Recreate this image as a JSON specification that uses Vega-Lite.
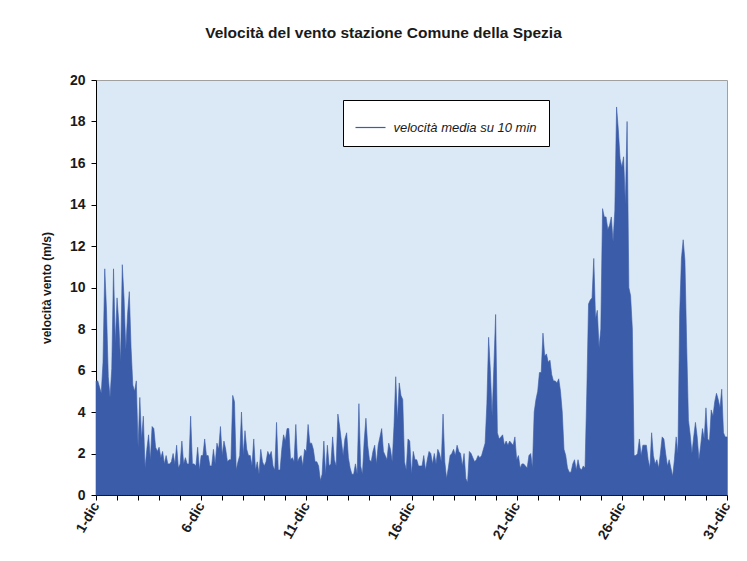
{
"$schema":"https://vega.github.io/schema/vega-lite/v6.json",
"width":631,"height":415,
"autosize":"none",
"padding":{"left":96,"top":80,"right":20,"bottom":66},
"background":"white",
"title":{"text":"Velocità del vento stazione Comune della Spezia","font":"Liberation Sans","fontSize":15.5,"fontWeight":"bold","color":"#1a1a1a","anchor":"middle","dx":-28,"offset":32,"frame":"group"},
"config":{"view":{"fill":"#dbe8f5","stroke":"#a0a0a0","strokeWidth":1},
"axis":{"grid":false,"domainColor":"#000","tickColor":"#000","tickSize":5,"labelFont":"Liberation Sans","labelFontWeight":"bold","labelColor":"#1a1a1a","titleFont":"Liberation Sans","titleFontWeight":"bold","titleColor":"#1a1a1a"}},
"data":{"values":[
{"h":0,"v":5.5},{"h":2,"v":5.5},{"h":4,"v":5.2},{"h":6,"v":4.9},{"h":8,"v":6.4},{"h":10,"v":10.9},{"h":12,"v":8.9},{"h":14,"v":5.7},{"h":16,"v":4.7},{"h":18,"v":6.1},{"h":20,"v":10.9},{"h":22,"v":7.3},{"h":24,"v":9.5},{"h":26,"v":8.3},{"h":28,"v":6.4},{"h":30,"v":11.1},{"h":32,"v":9.5},{"h":34,"v":7.0},{"h":36,"v":8.7},{"h":38,"v":9.8},{"h":40,"v":7.1},{"h":42,"v":5.3},{"h":44,"v":5.0},{"h":46,"v":5.5},{"h":48,"v":2.3},{"h":50,"v":4.7},{"h":52,"v":2.7},{"h":54,"v":3.8},{"h":56,"v":1.3},{"h":58,"v":2.2},{"h":60,"v":2.9},{"h":62,"v":1.7},{"h":64,"v":3.3},{"h":66,"v":3.2},{"h":68,"v":2.3},{"h":70,"v":2.1},{"h":72,"v":2.3},{"h":74,"v":1.8},{"h":76,"v":2.1},{"h":78,"v":1.5},{"h":80,"v":1.9},{"h":82,"v":1.5},{"h":84,"v":1.5},{"h":86,"v":1.6},{"h":88,"v":2.0},{"h":90,"v":1.5},{"h":92,"v":2.4},{"h":94,"v":1.3},{"h":96,"v":1.5},{"h":98,"v":2.6},{"h":100,"v":1.5},{"h":102,"v":1.8},{"h":104,"v":1.5},{"h":106,"v":1.5},{"h":108,"v":3.8},{"h":110,"v":1.5},{"h":112,"v":1.5},{"h":114,"v":1.4},{"h":116,"v":2.3},{"h":118,"v":1.2},
{"h":120,"v":1.9},{"h":122,"v":1.9},{"h":124,"v":2.7},{"h":126,"v":1.9},{"h":128,"v":1.9},{"h":130,"v":1.4},{"h":132,"v":1.4},{"h":134,"v":2.2},{"h":136,"v":1.5},{"h":138,"v":2.5},{"h":140,"v":2.2},{"h":142,"v":3.3},{"h":144,"v":1.9},{"h":146,"v":2.6},{"h":148,"v":2.2},{"h":150,"v":1.6},{"h":152,"v":1.7},{"h":154,"v":1.7},{"h":156,"v":4.8},{"h":158,"v":4.5},{"h":160,"v":1.2},{"h":162,"v":1.6},{"h":164,"v":1.9},{"h":166,"v":4.0},{"h":168,"v":1.9},{"h":170,"v":3.1},{"h":172,"v":2.2},{"h":174,"v":1.9},{"h":176,"v":1.9},{"h":178,"v":1.4},{"h":180,"v":2.7},{"h":182,"v":1.2},{"h":184,"v":1.6},{"h":186,"v":1.0},{"h":188,"v":2.2},{"h":190,"v":1.6},{"h":192,"v":1.4},{"h":194,"v":1.6},{"h":196,"v":2.1},{"h":198,"v":1.9},{"h":200,"v":2.1},{"h":202,"v":1.4},{"h":204,"v":1.2},{"h":206,"v":3.5},{"h":208,"v":1.2},{"h":210,"v":1.2},{"h":212,"v":2.2},{"h":214,"v":2.9},{"h":216,"v":2.6},{"h":218,"v":3.2},{"h":220,"v":3.2},{"h":222,"v":1.7},{"h":224,"v":1.8},{"h":226,"v":1.6},{"h":228,"v":3.4},{"h":230,"v":1.6},{"h":232,"v":1.8},{"h":234,"v":1.9},{"h":236,"v":1.4},{"h":238,"v":2.2},
{"h":240,"v":2.1},{"h":242,"v":3.4},{"h":244,"v":2.5},{"h":246,"v":2.5},{"h":248,"v":2.2},{"h":250,"v":1.6},{"h":252,"v":1.6},{"h":254,"v":1.4},{"h":256,"v":0.7},{"h":258,"v":1.0},{"h":260,"v":2.6},{"h":262,"v":1.0},{"h":264,"v":2.4},{"h":266,"v":1.4},{"h":268,"v":1.5},{"h":270,"v":2.8},{"h":272,"v":1.7},{"h":274,"v":1.4},{"h":276,"v":3.9},{"h":278,"v":3.3},{"h":280,"v":2.6},{"h":282,"v":1.9},{"h":284,"v":2.7},{"h":286,"v":3.0},{"h":288,"v":1.8},{"h":290,"v":1.3},{"h":292,"v":1.0},{"h":294,"v":1.0},{"h":296,"v":1.5},{"h":298,"v":1.0},{"h":300,"v":4.4},{"h":302,"v":1.4},{"h":304,"v":1.0},{"h":306,"v":2.6},{"h":308,"v":3.7},{"h":310,"v":2.4},{"h":312,"v":1.7},{"h":314,"v":1.6},{"h":316,"v":2.1},{"h":318,"v":2.4},{"h":320,"v":1.5},{"h":322,"v":2.4},{"h":324,"v":2.8},{"h":326,"v":3.2},{"h":328,"v":2.1},{"h":330,"v":1.9},{"h":332,"v":1.7},{"h":334,"v":2.5},{"h":336,"v":2.2},{"h":338,"v":1.6},{"h":340,"v":3.3},{"h":342,"v":5.7},{"h":344,"v":3.6},{"h":346,"v":5.4},{"h":348,"v":4.8},{"h":350,"v":4.6},{"h":352,"v":1.6},{"h":354,"v":1.2},{"h":356,"v":2.7},{"h":358,"v":2.6},
{"h":360,"v":1.0},{"h":362,"v":2.1},{"h":364,"v":1.7},{"h":366,"v":1.7},{"h":368,"v":1.4},{"h":370,"v":1.4},{"h":372,"v":1.4},{"h":374,"v":1.9},{"h":376,"v":1.2},{"h":378,"v":1.7},{"h":380,"v":2.1},{"h":382,"v":2.0},{"h":384,"v":1.5},{"h":386,"v":2.0},{"h":388,"v":1.5},{"h":390,"v":2.2},{"h":392,"v":2.0},{"h":394,"v":1.6},{"h":396,"v":3.9},{"h":398,"v":1.6},{"h":400,"v":0.8},{"h":402,"v":1.3},{"h":404,"v":1.9},{"h":406,"v":2.0},{"h":408,"v":2.2},{"h":410,"v":1.9},{"h":412,"v":2.4},{"h":414,"v":2.1},{"h":416,"v":2.0},{"h":418,"v":1.4},{"h":420,"v":2.0},{"h":422,"v":0.8},{"h":424,"v":0.6},{"h":426,"v":2.1},{"h":428,"v":2.0},{"h":430,"v":1.8},{"h":432,"v":1.6},{"h":434,"v":1.7},{"h":436,"v":1.9},{"h":438,"v":1.8},{"h":440,"v":1.9},{"h":442,"v":2.2},{"h":444,"v":2.5},{"h":446,"v":4.4},{"h":448,"v":7.6},{"h":450,"v":6.0},{"h":452,"v":3.8},{"h":454,"v":6.2},{"h":456,"v":8.7},{"h":458,"v":3.0},{"h":460,"v":2.7},{"h":462,"v":2.8},{"h":464,"v":2.9},{"h":466,"v":2.4},{"h":468,"v":2.6},{"h":470,"v":2.4},{"h":472,"v":2.6},{"h":474,"v":2.5},{"h":476,"v":2.4},{"h":478,"v":2.8},
{"h":480,"v":1.7},{"h":482,"v":1.9},{"h":484,"v":1.3},{"h":486,"v":1.5},{"h":488,"v":1.5},{"h":490,"v":1.4},{"h":492,"v":1.3},{"h":494,"v":1.9},{"h":496,"v":2.0},{"h":498,"v":1.3},{"h":500,"v":4.0},{"h":502,"v":4.6},{"h":504,"v":5.0},{"h":506,"v":5.9},{"h":508,"v":5.9},{"h":510,"v":7.8},{"h":512,"v":6.7},{"h":514,"v":6.8},{"h":516,"v":6.4},{"h":518,"v":6.5},{"h":520,"v":5.8},{"h":522,"v":5.5},{"h":524,"v":5.5},{"h":526,"v":5.4},{"h":528,"v":5.6},{"h":530,"v":5.0},{"h":532,"v":4.0},{"h":534,"v":2.2},{"h":536,"v":1.9},{"h":538,"v":1.3},{"h":540,"v":1.1},{"h":542,"v":1.1},{"h":544,"v":1.5},{"h":546,"v":1.7},{"h":548,"v":1.2},{"h":550,"v":1.7},{"h":552,"v":1.3},{"h":554,"v":1.2},{"h":556,"v":1.4},{"h":558,"v":1.3},{"h":560,"v":4.9},{"h":562,"v":9.2},{"h":564,"v":9.4},{"h":566,"v":9.5},{"h":568,"v":11.4},{"h":570,"v":8.5},{"h":572,"v":8.9},{"h":574,"v":7.1},{"h":576,"v":8.0},{"h":578,"v":13.8},{"h":580,"v":13.4},{"h":582,"v":13.4},{"h":584,"v":12.8},{"h":586,"v":13.0},{"h":588,"v":13.4},{"h":590,"v":12.2},{"h":592,"v":13.7},{"h":594,"v":18.7},{"h":596,"v":17.6},{"h":598,"v":16.2},
{"h":600,"v":15.8},{"h":602,"v":16.3},{"h":604,"v":14.0},{"h":606,"v":18.0},{"h":608,"v":10.0},{"h":610,"v":9.6},{"h":612,"v":8.0},{"h":614,"v":1.9},{"h":616,"v":1.9},{"h":618,"v":2.0},{"h":620,"v":2.7},{"h":622,"v":1.9},{"h":624,"v":2.4},{"h":626,"v":2.4},{"h":628,"v":2.4},{"h":630,"v":1.7},{"h":632,"v":1.3},{"h":634,"v":3.0},{"h":636,"v":1.9},{"h":638,"v":1.5},{"h":640,"v":1.7},{"h":642,"v":1.3},{"h":644,"v":2.0},{"h":646,"v":2.8},{"h":648,"v":2.7},{"h":650,"v":2.0},{"h":652,"v":1.4},{"h":654,"v":1.7},{"h":656,"v":1.3},{"h":658,"v":0.9},{"h":660,"v":1.7},{"h":662,"v":2.8},{"h":664,"v":2.0},{"h":666,"v":8.7},{"h":668,"v":11.4},{"h":670,"v":12.3},{"h":672,"v":11.3},{"h":674,"v":7.2},{"h":676,"v":3.6},{"h":678,"v":2.9},{"h":680,"v":2.0},{"h":682,"v":2.8},{"h":684,"v":3.5},{"h":686,"v":2.8},{"h":688,"v":1.7},{"h":690,"v":2.4},{"h":692,"v":3.2},{"h":694,"v":2.7},{"h":696,"v":4.2},{"h":698,"v":2.7},{"h":700,"v":2.6},{"h":702,"v":4.1},{"h":704,"v":3.8},{"h":706,"v":4.5},{"h":708,"v":4.9},{"h":710,"v":4.6},{"h":712,"v":4.2},{"h":714,"v":5.1},{"h":716,"v":3.0},{"h":718,"v":2.8},{"h":720,"v":2.8}
]},
"mark":{"type":"area","fill":"#3b5ca8","strokeWidth":0.6,"interpolate":"linear"},
"encoding":{
"x":{"field":"h","type":"quantitative","scale":{"domain":[0,720],"nice":false,"zero":false},
"axis":{"title":null,"values":[0,24,48,72,96,120,144,168,192,216,240,264,288,312,336,360,384,408,432,456,480,504,528,552,576,600,624,648,672,696,720],"labelExpr":"datum.value % 120 == 0 ? (datum.value/24+1) + '-dic' : ''","labelAngle":-60,"labelAlign":"right","labelBaseline":"middle","labelFontSize":14,"labelOverlap":false,"labelFlush":false,"labelPadding":3}},
"y":{"field":"v","type":"quantitative","scale":{"domain":[0,20],"nice":false},
"axis":{"title":"velocità vento (m/s)","values":[0,2,4,6,8,10,12,14,16,18,20],"labelFontSize":14,"labelPadding":6,"titleFontSize":12,"titlePadding":16}},
"stroke":{"datum":"velocità media su 10 min","type":"nominal","scale":{"range":["#3b5ca8"]},
"legend":{"title":null,"orient":"none","legendX":247,"legendY":20,"symbolType":"stroke","symbolSize":900,"symbolStrokeWidth":1.2,"labelFont":"Liberation Sans","labelFontStyle":"italic","labelFontSize":13,"labelColor":"#1a1a1a","labelOffset":7,"padding":11.5,"strokeColor":"#000","fillColor":"#fff","cornerRadius":0}}
}
}
